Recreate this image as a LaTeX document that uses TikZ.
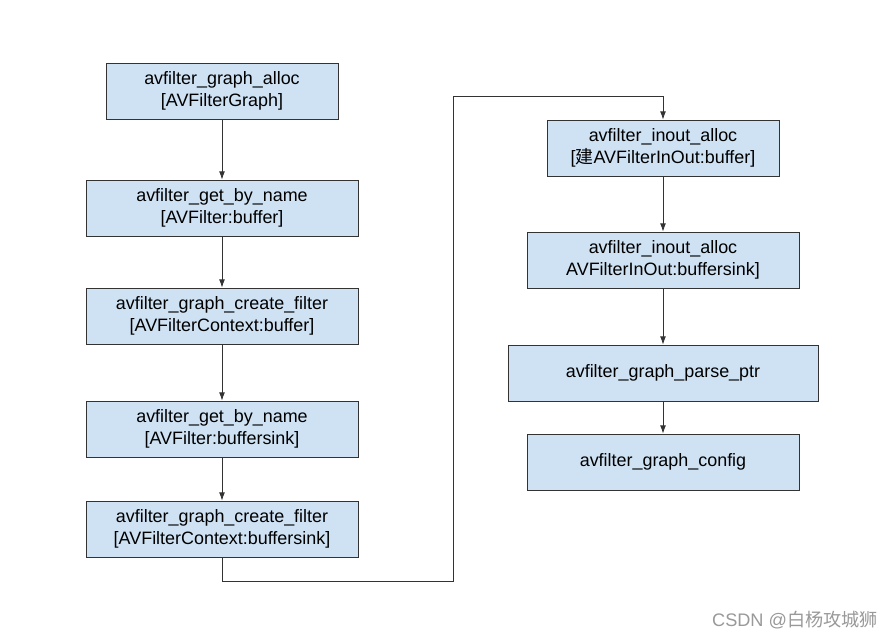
\documentclass[tikz,border=0pt]{standalone}
\usepackage{fontspec}
\setmainfont{Liberation Sans}
\newfontfamily\cjk{Noto Sans CJK SC}
\usepackage{tikz}
\usetikzlibrary{arrows.meta}

\definecolor{boxfill}{HTML}{CFE2F3}
\definecolor{boxline}{HTML}{333333}
\tikzset{
  callbox/.style={draw=boxline, fill=boxfill, line width=0.7pt, minimum height=1.68cm,
    inner sep=0pt, align=center, font=\fontsize{15.3}{18.4}\selectfont},
  flow/.style={draw=boxline, line width=0.7pt, -{Latex[length=7pt,width=5pt]}}
}

\begin{document}
\begin{tikzpicture}[x=0.03cm,y=-0.03cm]
\useasboundingbox[fill=white] (0,0) rectangle (896,639);
\node[callbox, minimum width=6.96cm] (A) at (222,91) {avfilter\_graph\_alloc\\{[}AVFilterGraph]};
\node[callbox, minimum width=8.16cm] (B) at (222,208) {avfilter\_get\_by\_name\\{[}AVFilter:buffer]};
\node[callbox, minimum width=8.16cm] (C) at (222,316) {avfilter\_graph\_create\_filter\\{[}AVFilterContext:buffer]};
\node[callbox, minimum width=8.16cm] (D) at (222,429) {avfilter\_get\_by\_name\\{[}AVFilter:buffersink]};
\node[callbox, minimum width=8.16cm] (E) at (222,529) {avfilter\_graph\_create\_filter\\{[}AVFilterContext:buffersink]};
\node[callbox, minimum width=6.96cm] (F) at (663,148) {avfilter\_inout\_alloc\\{[}{\cjk 建}AVFilterInOut:buffer]};
\node[callbox, minimum width=8.16cm] (G) at (663,260) {avfilter\_inout\_alloc\\AVFilterInOut:buffersink]};
\node[callbox, minimum width=9.30cm] (H) at (663,373) {avfilter\_graph\_parse\_ptr};
\node[callbox, minimum width=8.16cm] (I) at (663,462) {avfilter\_graph\_config};
\coordinate (turnlow) at (453,581);
\coordinate (turnhigh) at (453,96);
\draw [flow] (A) -- (B);
\draw [flow] (B) -- (C);
\draw [flow] (C) -- (D);
\draw [flow] (D) -- (E);
\draw [flow] (E.south) |- (turnlow) -- (turnhigh) -| (F.north);
\draw [flow] (F) -- (G);
\draw [flow] (G) -- (H);
\draw [flow] (H) -- (I);
\node[text=gray!80, font=\fontsize{15.5}{18}\selectfont] (mark) at (795,620) {CSDN @{\cjk 白杨攻城狮}};
\end{tikzpicture}
\end{document}
